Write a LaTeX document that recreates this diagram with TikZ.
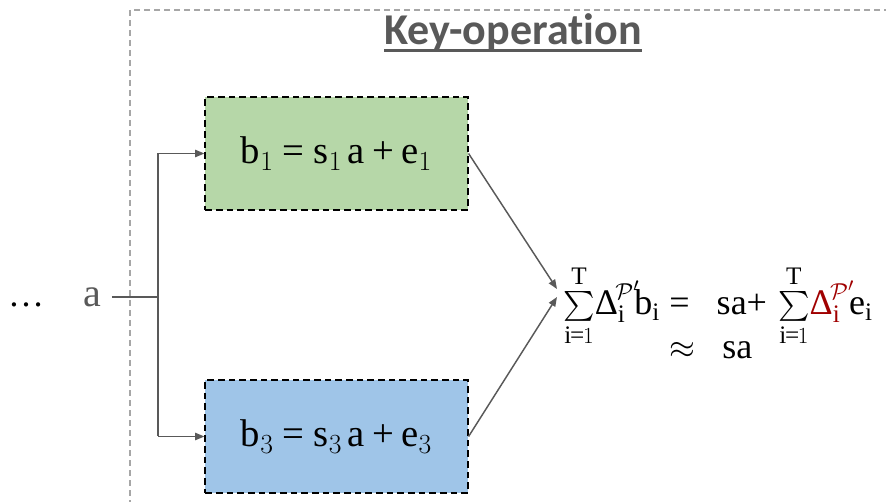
\documentclass[tikz,border=0pt]{standalone}
\usepackage{amsmath}
\usepackage{graphicx}
\usepackage{fontspec}
\setmainfont{Liberation Serif}
\newfontfamily\titlefont[Ligatures=NoCommon]{Carlito}
\usetikzlibrary{arrows.meta}
\definecolor{linegrey}{HTML}{595959}
\definecolor{framegrey}{HTML}{A6A6A6}
\definecolor{boxgreen}{HTML}{B6D7A8}
\definecolor{boxblue}{HTML}{9FC5E8}
\definecolor{deltared}{HTML}{A00000}
\newcommand{\up}[1]{\mathrm{#1}}
% compact summation sign with limits above and below
\newcommand{\ssum}{\mathop{\vcenter{\hbox{\scalebox{0.9}{$\textstyle\sum$}}}}\limits}
\newcommand{\lowlim}{\up{i}\mkern-1mu\text{=}\mkern-1mu1}
\newcommand{\dlt}{\text{Δ}_{\up{i}}^{\mkern-2mu\mathcal{P}'}\mkern-3mu}
\newcommand{\teq}{\mathrel{\text{=}}}
\newcommand{\tplus}{\text{+}}
\begin{document}
\begin{tikzpicture}[x=0.75pt,y=-0.75pt,
  eqbox/.style={draw=black, dash pattern=on 5pt off 3pt, line width=1.1pt,
    minimum width=197pt, minimum height=84.5pt, inner sep=0pt,
    font=\fontsize{29}{34}\selectfont},
  wire/.style={draw=linegrey, line width=1.1pt},
  tip/.style={-{Triangle[length=7pt,width=5.5pt]}}]
\useasboundingbox (0,0) rectangle (886,502);

% dashed frame around the key operation
\draw[framegrey, line width=0.9pt, dash pattern=on 4.5pt off 3pt]
  (900,10) -- (130,10) -- (130,520);
\node[text=linegrey, font=\titlefont\bfseries\fontsize{33}{38}\selectfont,
  inner sep=0pt, anchor=base] (title) at (513,45) {Key-operation};
\draw[linegrey, line width=2.2pt]
  ([yshift=-4pt]title.base west) -- ([yshift=-4pt]title.base east);

% the two samples
\node[eqbox, fill=boxgreen] (b1) at (336.5,153.5)
  {$\up{b}_1 \teq \up{s}_1\,\up{a} \mathbin{\tplus} \up{e}_1$};
\node[eqbox, fill=boxblue] (b3) at (336.5,436.5)
  {$\up{b}_3 \teq \up{s}_3\,\up{a} \mathbin{\tplus} \up{e}_3$};

% input
\node[font=\fontsize{27}{32}\selectfont, anchor=base] (dots) at (26,307) {\ldots};
\node[text=linegrey, font=\fontsize{30}{34}\selectfont, anchor=base, inner sep=2pt] (a) at (92,307) {a};
\coordinate (split) at (158,297);
\draw[wire] (a.east |- split) ++(6pt,0) -- (split);
\draw[wire] (b1.west -| split) -- (b3.west -| split);
\draw[wire, tip] (b1.west -| split) -- (b1.west);
\draw[wire, tip] (b3.west -| split) -- (b3.west);

% aggregated result
\node[font=\fontsize{27}{32}\selectfont, anchor=west, inner sep=0pt] (sum) at (563,318)
  {$\begin{aligned}
    \ssum_{\lowlim}^{\up{T}}\mkern-3mu\dlt\up{b}_{\up{i}}
      &\teq \enspace\up{sa}\tplus\,\ssum_{\lowlim}^{\up{T}}\mkern-3mu
      \textcolor{deltared}{\dlt}\up{e}_{\up{i}}\\[-18pt]
    &\approx \enspace\up{sa}
  \end{aligned}$};
\coordinate (in1) at (557,289);
\coordinate (in3) at (557,297);
\draw[wire, tip] (b1.east) -- (in1);
\draw[wire, tip] (b3.east) -- (in3);
\end{tikzpicture}
\end{document}
